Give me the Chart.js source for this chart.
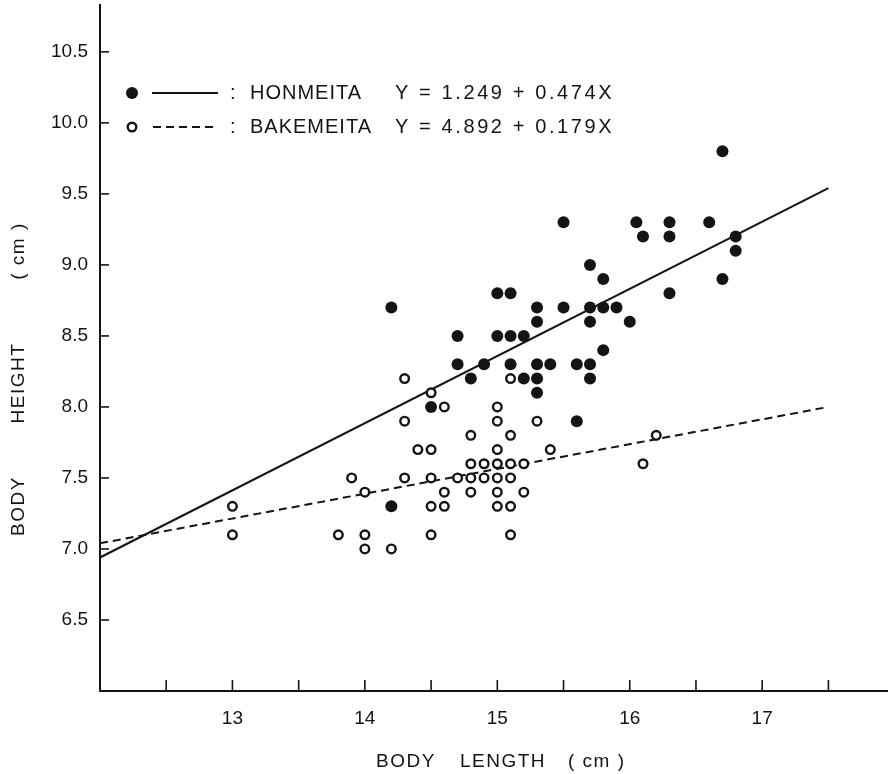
<!DOCTYPE html>
<html><head><meta charset="utf-8">
<script src="https://cdn.jsdelivr.net/npm/chart.js@4/dist/chart.umd.min.js"></script>
<style>html,body{margin:0;padding:0;background:#fff;overflow:hidden}</style>
</head><body>
<canvas id="c" width="888" height="774"></canvas>
<script>
// HONMEITA (filled circles)
const honX = [14.2,14.2,14.5,14.7,14.7,14.8,14.9,15.0,15.1,15.0,15.1,15.2,15.1,15.2,15.3,15.3,15.3,15.3,15.3,15.4,15.5,15.5,15.6,15.6,15.7,15.7,15.7,15.7,15.7,15.8,15.8,15.8,15.9,16.0,16.05,16.1,16.3,16.3,16.3,16.6,16.7,16.7,16.8,16.8];
const honY = [8.7,7.3,8.0,8.5,8.3,8.2,8.3,8.8,8.8,8.5,8.5,8.5,8.3,8.2,8.7,8.6,8.3,8.2,8.1,8.3,8.7,9.3,8.3,7.9,9.0,8.7,8.6,8.3,8.2,8.9,8.7,8.4,8.7,8.6,9.3,9.2,9.3,9.2,8.8,9.3,9.8,8.9,9.2,9.1];
// BAKEMEITA (open circles)
const bakX = [13.0,13.0,13.8,13.9,14.0,14.0,14.0,14.2,14.3,14.3,14.3,14.4,14.5,14.5,14.5,14.5,14.5,14.6,14.6,14.6,14.7,14.8,14.8,14.8,14.8,14.9,14.9,15.0,15.0,15.0,15.0,15.0,15.0,15.0,15.1,15.1,15.1,15.1,15.1,15.1,15.2,15.2,15.3,15.4,16.1,16.2];
const bakY = [7.3,7.1,7.1,7.5,7.4,7.1,7.0,7.0,8.2,7.9,7.5,7.7,8.1,7.7,7.5,7.3,7.1,8.0,7.4,7.3,7.5,7.8,7.6,7.5,7.4,7.6,7.5,8.0,7.9,7.7,7.6,7.5,7.4,7.3,8.2,7.8,7.6,7.5,7.3,7.1,7.6,7.4,7.9,7.7,7.6,7.8];
// regression line end points
const honLineX = [12, 17.5];
const honLineY = [6.94, 9.54];
const bakLineX = [12, 17.5];
const bakLineY = [7.04, 8.00];
// tick labels
const xTickValues = [13,14,15,16,17];
const yTickLabels = ['6.5','7.0','7.5','8.0','8.5','9.0','9.5','10.0','10.5'];
const legendNames = ['HONMEITA','BAKEMEITA'];
const legendEqs = ['Y = 1.249 + 0.474X','Y = 4.892 + 0.179X'];

const toPts = (xs, ys) => xs.map((x, i) => ({x, y: ys[i]}));
const INK = '#141414';
const FONT = '"Liberation Sans", Arial, sans-serif';

const deco = {
  id: 'deco',
  afterDraw(chart) {
    const ctx = chart.ctx;
    const xs = chart.scales.x, ys = chart.scales.y;
    const ca = chart.chartArea;
    ctx.save();
    ctx.strokeStyle = INK; ctx.lineWidth = 1.6;
    for (let v = 12.5; v <= 17.51; v += 0.5) {
      const px = xs.getPixelForValue(v);
      ctx.beginPath(); ctx.moveTo(px, ca.bottom); ctx.lineTo(px, ca.bottom - 11); ctx.stroke();
    }
    for (let v = 6.5; v <= 10.51; v += 0.5) {
      const py = ys.getPixelForValue(v);
      ctx.beginPath(); ctx.moveTo(ca.left, py); ctx.lineTo(ca.left + 9, py); ctx.stroke();
    }
    const rows = [93, 127];
    ctx.fillStyle = INK;
    ctx.beginPath(); ctx.arc(132, rows[0], 6, 0, Math.PI*2); ctx.fill();
    ctx.lineWidth = 2.4;
    ctx.beginPath(); ctx.arc(132, rows[1], 4.3, 0, Math.PI*2); ctx.stroke();
    ctx.lineWidth = 2;
    ctx.beginPath(); ctx.moveTo(152, rows[0]); ctx.lineTo(218, rows[0]); ctx.stroke();
    ctx.setLineDash([8, 5]);
    ctx.beginPath(); ctx.moveTo(153, rows[1]); ctx.lineTo(218, rows[1]); ctx.stroke();
    ctx.setLineDash([]);
    ctx.font = '20px ' + FONT;
    ctx.textBaseline = 'middle'; ctx.textAlign = 'left';
    for (let i = 0; i < 2; i++) {
      ctx.letterSpacing = '0px';
      ctx.fillText(':', 230, rows[i]);
      ctx.letterSpacing = '1px';
      ctx.fillText(legendNames[i], 250, rows[i]);
      ctx.letterSpacing = '2.6px';
      ctx.fillText(legendEqs[i], 395, rows[i]);
    }
    ctx.font = '19px ' + FONT;
    ctx.letterSpacing = '1.5px';
    ctx.textBaseline = 'middle';
    ctx.fillText('BODY', 376, 762);
    ctx.fillText('LENGTH', 460, 762);
    ctx.fillText('( cm )', 568, 762);
    ctx.save();
    ctx.translate(19, 0);
    ctx.rotate(-Math.PI/2);
    ctx.textAlign = 'center';
    ctx.fillText('BODY', -506, 0);
    ctx.fillText('HEIGHT', -383, 0);
    ctx.fillText('( cm )', -251, 0);
    ctx.restore();
    ctx.restore();
  }
};

new Chart(document.getElementById('c'), {
  type: 'scatter',
  data: {
    datasets: [
      { label: 'HONMEITA', data: toPts(honX, honY), pointRadius: 6, pointBackgroundColor: INK, pointBorderColor: INK, pointBorderWidth: 0, order: 2 },
      { label: 'BAKEMEITA', data: toPts(bakX, bakY), pointRadius: 4.3, pointBackgroundColor: '#fff', pointBorderColor: INK, pointBorderWidth: 2.4, order: 1 },
      { type: 'line', label: 'hon fit', data: toPts(honLineX, honLineY), borderColor: INK, borderWidth: 2, pointRadius: 0, showLine: true, order: 3 },
      { type: 'line', label: 'bak fit', data: toPts(bakLineX, bakLineY), borderColor: INK, borderWidth: 2, borderDash: [8, 5], pointRadius: 0, showLine: true, order: 3 }
    ]
  },
  options: {
    responsive: false, animation: false, devicePixelRatio: 1,
    layout: { autoPadding: false, padding: { top: 5, right: 0, left: 0, bottom: 0 } },
    plugins: { legend: { display: false }, tooltip: { enabled: false } },
    scales: {
      x: {
        type: 'linear', min: 12, max: 17.95,
        grid: { display: false, drawTicks: false },
        border: { display: true, color: INK, width: 2 },
        afterBuildTicks: s => { s.ticks = xTickValues.map(v => ({ value: v })); },
        ticks: { autoSkip: false, maxRotation: 0, padding: 16, color: INK, font: { size: 19, family: FONT }, callback: v => String(v) },
        afterFit: s => { s.height = 83; s.paddingLeft = 0; s.paddingRight = 0; }
      },
      y: {
        type: 'linear', min: 6, max: 10.83,
        grid: { display: false, drawTicks: false },
        border: { display: true, color: INK, width: 2 },
        afterBuildTicks: s => { s.ticks = yTickLabels.map(t => ({ value: parseFloat(t) })); },
        ticks: { autoSkip: false, padding: 12, color: INK, font: { size: 19, family: FONT }, callback: v => yTickLabels.find(t => parseFloat(t) === v) },
        afterFit: s => { s.width = 100; s.paddingTop = 0; s.paddingBottom = 0; }
      }
    }
  },
  plugins: [deco]
});
</script>
</body></html>
